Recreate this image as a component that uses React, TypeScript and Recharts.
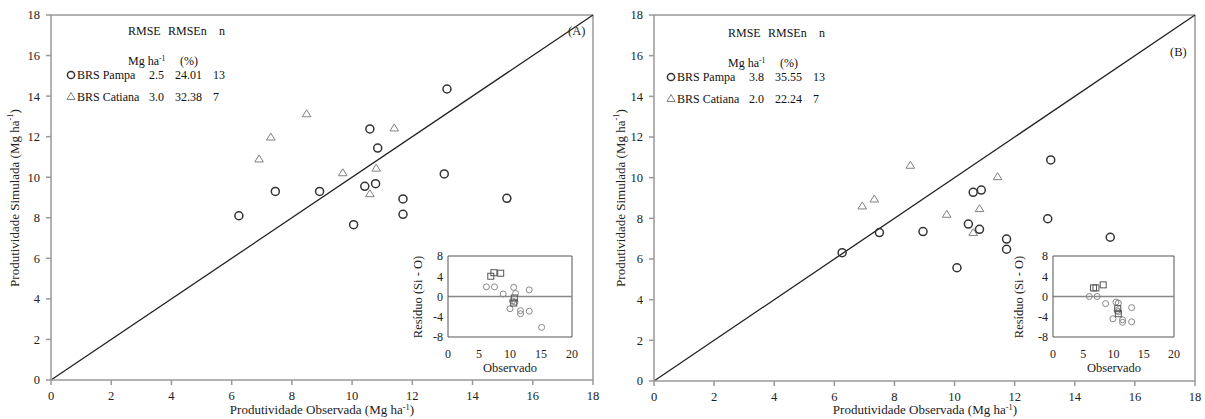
import React from 'react';
import { ScatterChart, Scatter, XAxis, YAxis, ReferenceLine } from 'recharts';

const FONT = '"Liberation Serif", "Times New Roman", serif';

const MAIN_TICKS = [0, 2, 4, 6, 8, 10, 12, 14, 16, 18];
const INSET_X_TICKS = [0, 5, 10, 15, 20];
const INSET_Y_TICKS = [-8, -4, 0, 4, 8];

// Panel A: observed (x) vs simulated (y), Mg ha-1
const pampaA = [
  { x: 6.24, y: 8.1 }, { x: 7.45, y: 9.3 }, { x: 8.92, y: 9.3 }, { x: 10.05, y: 7.66 },
  { x: 10.42, y: 9.55 }, { x: 10.78, y: 9.68 }, { x: 10.59, y: 12.38 }, { x: 10.85, y: 11.44 },
  { x: 11.69, y: 8.93 }, { x: 11.69, y: 8.17 }, { x: 13.06, y: 10.16 }, { x: 13.15, y: 14.35 },
  { x: 15.14, y: 8.96 },
];
const catianaA = [
  { x: 6.91, y: 10.9 }, { x: 7.3, y: 11.98 }, { x: 8.49, y: 13.13 }, { x: 9.69, y: 10.22 },
  { x: 10.59, y: 9.19 }, { x: 10.8, y: 10.45 }, { x: 11.4, y: 12.43 },
];
// inset A: residuals (Si - O)
const residPampaA = [
  { x: 6.2, y: 1.9 }, { x: 7.5, y: 1.9 }, { x: 8.9, y: 0.5 }, { x: 10.0, y: -2.4 },
  { x: 10.6, y: 1.8 }, { x: 10.9, y: 0.6 }, { x: 10.4, y: -0.9 }, { x: 10.8, y: -1.1 },
  { x: 11.7, y: -2.8 }, { x: 11.7, y: -3.4 }, { x: 13.1, y: 1.3 }, { x: 13.1, y: -2.9 },
  { x: 15.1, y: -6.1 },
];
const residCatianaA = [
  { x: 6.9, y: 4.0 }, { x: 7.4, y: 4.7 }, { x: 8.5, y: 4.6 }, { x: 10.7, y: -0.3 }, { x: 10.6, y: -1.3 },
];

// Panel B
const pampaB = [
  { x: 6.26, y: 6.31 }, { x: 7.5, y: 7.3 }, { x: 8.95, y: 7.35 }, { x: 10.08, y: 5.57 },
  { x: 10.46, y: 7.72 }, { x: 10.83, y: 7.46 }, { x: 10.62, y: 9.28 }, { x: 10.89, y: 9.39 },
  { x: 11.73, y: 6.98 }, { x: 11.73, y: 6.48 }, { x: 13.1, y: 7.98 }, { x: 13.2, y: 10.87 },
  { x: 15.18, y: 7.07 },
];
const catianaB = [
  { x: 6.93, y: 8.61 }, { x: 7.33, y: 8.95 }, { x: 8.53, y: 10.61 }, { x: 9.74, y: 8.2 },
  { x: 10.62, y: 7.3 }, { x: 10.83, y: 8.48 }, { x: 11.43, y: 10.05 },
];
const residPampaB = [
  { x: 6.0, y: 0.0 }, { x: 7.3, y: 0.0 }, { x: 8.7, y: -1.4 }, { x: 9.9, y: -4.4 },
  { x: 10.4, y: -1.1 }, { x: 10.6, y: -2.8 }, { x: 10.8, y: -1.3 }, { x: 10.8, y: -3.0 },
  { x: 11.5, y: -4.6 }, { x: 11.5, y: -5.1 }, { x: 13.0, y: -2.2 }, { x: 13.0, y: -5.0 },
];
const residCatianaB = [
  { x: 6.7, y: 1.7 }, { x: 7.1, y: 1.7 }, { x: 8.3, y: 2.3 }, { x: 10.7, y: -2.4 }, { x: 10.8, y: -3.4 },
];

const statsA = [
  { name: 'BRS Pampa', rmse: '2.5', rmsen: '24.01', n: '13' },
  { name: 'BRS Catiana', rmse: '3.0', rmsen: '32.38', n: '7' },
];
const statsB = [
  { name: 'BRS Pampa', rmse: '3.8', rmsen: '35.55', n: '13' },
  { name: 'BRS Catiana', rmse: '2.0', rmsen: '22.24', n: '7' },
];

const circleShape = (r: number, stroke: string, sw: number) => (p: any) => (
  <circle cx={p.cx} cy={p.cy} r={r} fill="none" stroke={stroke} strokeWidth={sw} />
);
const triangleShape = (p: any) => (
  <path
    d={`M${p.cx},${p.cy - 4} L${p.cx + 4.3},${p.cy + 3} L${p.cx - 4.3},${p.cy + 3} Z`}
    fill="none"
    stroke="#808080"
    strokeWidth={1}
  />
);
const squareShape = (p: any) => (
  <rect x={p.cx - 3} y={p.cy - 3} width={6} height={6} fill="none" stroke="#555" strokeWidth={1} />
);

const mainTick = { fill: '#222', fontSize: 12.5, fontFamily: FONT };
const insetTick = { fill: '#222', fontSize: 12, fontFamily: FONT };

function MainPanel({ left, width, bottom, pampa, catiana }: any) {
  return (
    <div style={{ position: 'absolute', left, top: 0 }}>
      <ScatterChart width={width} height={419} margin={{ top: 15, right: 7, left: 0, bottom }}>
        <XAxis type="number" dataKey="x" domain={[0, 18]} ticks={MAIN_TICKS} interval={0} height={30}
          stroke="#999" strokeWidth={1.5} tickSize={5} tickMargin={6} tick={mainTick} />
        <YAxis type="number" dataKey="y" domain={[0, 18]} ticks={MAIN_TICKS} interval={0} width={51}
          stroke="#999" strokeWidth={1.5} tickSize={5} tickMargin={6} tick={mainTick} />
        <ReferenceLine y={18} stroke="#999" strokeWidth={1.5} />
        <ReferenceLine x={18} stroke="#999" strokeWidth={1.5} />
        <ReferenceLine segment={[{ x: 0, y: 0 }, { x: 18, y: 18 }]} stroke="#222" strokeWidth={1.3} />
        <Scatter data={catiana} shape={triangleShape} isAnimationActive={false} />
        <Scatter data={pampa} shape={circleShape(4, '#333', 1.5)} isAnimationActive={false} />
      </ScatterChart>
    </div>
  );
}

function Inset({ left, width, pampa, catiana }: any) {
  return (
    <div style={{ position: 'absolute', left, top: 245 }}>
      <ScatterChart width={width} height={135} margin={{ top: 11, right: 12, left: 0, bottom: 3 }}>
        <XAxis type="number" dataKey="x" domain={[0, 20]} ticks={INSET_X_TICKS} interval={0} height={40}
          stroke="#555" tickLine={false} tickSize={0} tickMargin={12} tick={insetTick} />
        <YAxis type="number" dataKey="y" domain={[-8, 8]} ticks={INSET_Y_TICKS} interval={0} width={43}
          stroke="#555" tickLine={false} tickSize={0} tickMargin={5} tick={insetTick} />
        <ReferenceLine y={8} stroke="#555" />
        <ReferenceLine x={20} stroke="#555" />
        <ReferenceLine y={0} stroke="#888" strokeWidth={1.5} />
        <Scatter data={pampa} shape={circleShape(3, '#888', 1)} isAnimationActive={false} />
        <Scatter data={catiana} shape={squareShape} isAnimationActive={false} />
      </ScatterChart>
    </div>
  );
}

const Unit = ({ size, paren }: any) => (
  <>
    <tspan>{paren ? '(Mg ha' : 'Mg ha'}</tspan>
    <tspan dy={-4} fontSize={size * 0.65}>-1</tspan>
    <tspan dy={4}>{paren ? ')' : ''}</tspan>
  </>
);

function Legend({ stats, dx, dy }: any) {
  const fs = 12;
  return (
    <g fontSize={fs} fill="#111" transform={`translate(${dx},${dy})`}>
      <text x={128} y={35}>RMSE</text>
      <text x={168} y={35}>RMSEn</text>
      <text x={219} y={35}>n</text>
      <text x={128} y={65}><Unit size={fs} /></text>
      <text x={180} y={65}>(%)</text>
      <circle cx={71} cy={75} r={3.6} fill="none" stroke="#333" strokeWidth={1.5} />
      <path d="M71,92.5 L75,99.5 L67,99.5 Z" fill="none" stroke="#808080" strokeWidth={1} />
      {stats.map((s: any, i: number) => {
        const y = i === 0 ? 79 : 101;
        return (
          <g key={s.name}>
            <text x={77} y={y}>{s.name}</text>
            <text x={149} y={y}>{s.rmse}</text>
            <text x={175} y={y}>{s.rmsen}</text>
            <text x={213} y={y}>{s.n}</text>
          </g>
        );
      })}
    </g>
  );
}

function Titles({ cx, yx, insetYx, insetCx, label, labelX, labelY }: any) {
  return (
    <g fill="#222">
      <text transform={`translate(${yx},198) rotate(-90)`} textAnchor="middle" dominantBaseline="central" fontSize={13}>
        Produtividade Simulada  <Unit size={13} paren />
      </text>
      <text x={cx} y={414} textAnchor="middle" fontSize={13}>
        Produtividade Observada  <Unit size={13} paren />
      </text>
      <text transform={`translate(${insetYx},297) rotate(-90)`} textAnchor="middle" dominantBaseline="central" fontSize={12.5}>
        Resíduo (Si - O)
      </text>
      <text x={insetCx} y={372} textAnchor="middle" fontSize={12.5}>Observado</text>
      <text x={labelX} y={labelY} fontSize={12.5}>{label}</text>
    </g>
  );
}

export default function App() {
  return (
    <div style={{ position: 'absolute', left: 0, top: 0, width: 1205, height: 419, background: '#fff', fontFamily: FONT }}>
      <MainPanel left={0} width={600} bottom={9} pampa={pampaA} catiana={catianaA} />
      <MainPanel left={603} width={599} bottom={8} pampa={pampaB} catiana={catianaB} />
      <Inset left={405} width={179} pampa={residPampaA} catiana={residCatianaA} />
      <Inset left={1010} width={176} pampa={residPampaB} catiana={residCatianaB} />
      <svg width={1205} height={419} style={{ position: 'absolute', left: 0, top: 0, pointerEvents: 'none', fontFamily: FONT }}>
        <Legend stats={statsA} dx={0} dy={0} />
        <Legend stats={statsB} dx={600} dy={2} />
        <Titles cx={322} yx={14} insetYx={418} insetCx={510} label="(A)" labelX={568} labelY={35} />
        <Titles cx={925} yx={620} insetYx={1019} insetCx={1114} label="(B)" labelX={1170} labelY={56} />
      </svg>
    </div>
  );
}
